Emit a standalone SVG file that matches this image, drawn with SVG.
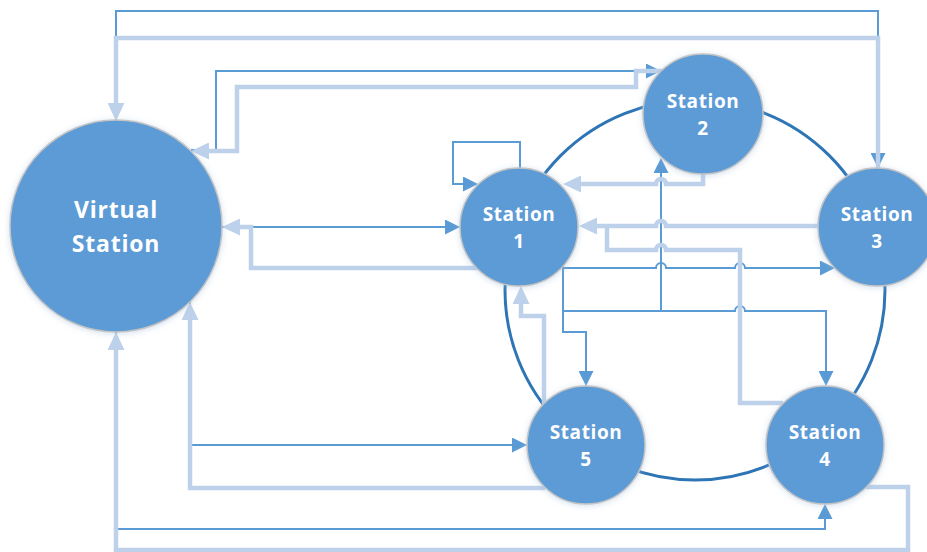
<svg xmlns="http://www.w3.org/2000/svg" width="927" height="552" viewBox="0 0 927 552">
<style>
.t{fill:none;stroke:#5B9BD5;stroke-width:2;stroke-linejoin:miter}
.k{fill:none;stroke:#BDD1EB;stroke-width:4.5;stroke-linejoin:miter}
.ta{marker-end:url(#at)}
.ka{marker-end:url(#ak)}
.ring{fill:none;stroke:#2E75B6;stroke-width:3}
.node circle{fill:#5B9BD5;stroke:#C4C4C4;stroke-width:1.5;filter:url(#glow)}
.node text{fill:#FFFFFF;font-family:"Open Sans","DejaVu Sans",sans-serif;font-weight:bold;text-anchor:middle}
.s text{font-size:19px;letter-spacing:0.6px}
.v text{font-size:23px;letter-spacing:0.8px}
</style>
<defs>
<marker id="at" markerUnits="userSpaceOnUse" markerWidth="16" markerHeight="15" refX="0" refY="7.5" orient="auto">
<path d="M0,0 L15,7.5 L0,15 z" fill="#5B9BD5"/>
</marker>
<marker id="ak" markerUnits="userSpaceOnUse" markerWidth="19" markerHeight="17" refX="0" refY="8.5" orient="auto">
<path d="M0,0 L18,8.5 L0,17 z" fill="#BDD1EB"/>
</marker>
<filter id="glow" x="-20%" y="-20%" width="140%" height="140%">
<feGaussianBlur in="SourceAlpha" stdDeviation="3"/>
<feOffset dx="0" dy="1" result="b"/>
<feFlood flood-color="#9DB9DA" flood-opacity="0.45"/>
<feComposite in2="b" operator="in"/>
<feMerge><feMergeNode/><feMergeNode in="SourceGraphic"/></feMerge>
</filter>
</defs>
<circle class="ring" cx="695" cy="290" r="190"/>
<g id="connectors">
<!-- thin connectors -->
<path class="t ta" d="M116,120 V11 H878 V153"/>
<path class="t ta" d="M191,150 H216 V71 H646"/>
<path class="t ta" d="M222,227 H445"/>
<path class="t ta" d="M520,168 V142 H453 V184 H463"/>
<path class="t ta" d="M563,266 V332 H586 V371"/>
<path class="t ta" d="M563,268 H656 A5,5 0 0 1 666,268 H735 A5,5 0 0 1 745,268 H820"/>
<path class="t ta" d="M563,311 H735 A5,5 0 0 1 745,311 H826 V371"/>
<path class="t ta" d="M661,311 V173"/>
<path class="t ta" d="M190,302 V445 H512"/>
<path class="t ta" d="M116,332 V529 H825 V519"/>
<!-- thick connectors -->
<path class="k ka" d="M878,168 V38 H116 V103"/>
<path class="k ka" d="M662,71 H636 V87 H237 V151 H209"/>
<path class="k ka" d="M478,268 H251 V227 H240"/>
<path class="k ka" d="M703,174 V184 H666 A5,5 0 0 0 656,184 H581"/>
<path class="k ka" d="M818,226 H666 A5,5 0 0 0 656,226 H597"/>
<path class="k" d="M783,403 H740 V250 H666 A5,5 0 0 0 656,250 H607 V226"/>
<path class="k ka" d="M544,404 V316 H521 V304"/>
<path class="k ka" d="M545,488 H190 V320"/>
<path class="k ka" d="M866,487 H908 V550 H116 V350"/>
</g>
<g id="virtual-station" class="node v">
<circle cx="116" cy="226" r="106"/>
<text x="116" y="218">Virtual</text>
<text x="116" y="252">Station</text>
</g>
<g id="station-1" class="node s">
<circle cx="519" cy="227" r="59"/>
<text x="519" y="221">Station</text>
<text x="519" y="248">1</text>
</g>
<g id="station-2" class="node s">
<circle cx="703" cy="114" r="60"/>
<text x="703" y="108">Station</text>
<text x="703" y="135">2</text>
</g>
<g id="station-3" class="node s">
<circle cx="877" cy="227" r="59"/>
<text x="877" y="221">Station</text>
<text x="877" y="248">3</text>
</g>
<g id="station-4" class="node s">
<circle cx="825" cy="445" r="59"/>
<text x="825" y="439">Station</text>
<text x="825" y="466">4</text>
</g>
<g id="station-5" class="node s">
<circle cx="586" cy="445" r="59"/>
<text x="586" y="439">Station</text>
<text x="586" y="466">5</text>
</g>
</svg>
